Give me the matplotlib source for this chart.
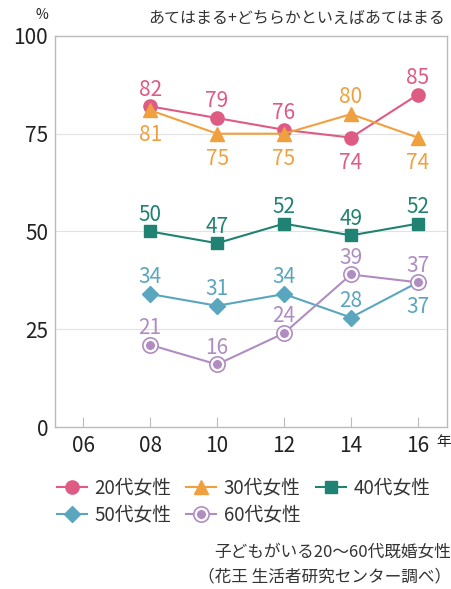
import matplotlib.pyplot as plt

plt.rcParams['font.family'] = ['Noto Sans CJK JP', 'DejaVu Sans']

years = [8, 10, 12, 14, 16]
xticks = [6, 8, 10, 12, 14, 16]
xticklabels = ['06', '08', '10', '12', '14', '16']
yticks = [0, 25, 50, 75, 100]

v20 = [82, 79, 76, 74, 85]
v30 = [81, 75, 75, 80, 74]
v40 = [50, 47, 52, 49, 52]
v50 = [34, 31, 34, 28, 37]
v60 = [21, 16, 24, 39, 37]

# label placement per point: 1 above, -1 below
pos20 = [1, 1, 1, -1, 1]
pos30 = [-1, -1, -1, 1, -1]
pos40 = [1, 1, 1, 1, 1]
pos50 = [1, 1, 1, 1, -1]
pos60 = [1, 1, 1, 1, 1]

c20 = '#de5b84'
c30 = '#f0a03e'
c40 = '#1f8272'
c50 = '#5ba6bf'
c60 = '#b08dc0'

fig = plt.figure(figsize=(4.52, 5.89), dpi=100)
ax = fig.add_axes([0.122, 0.275, 0.867, 0.664])

l20, = ax.plot(years, v20, color=c20, marker='o', ms=9.5, lw=1.5)
l30, = ax.plot(years, v30, color=c30, marker='^', ms=10, lw=1.5)
l40, = ax.plot(years, v40, color=c40, marker='s', ms=9, lw=1.5)
l50, = ax.plot(years, v50, color=c50, marker='D', ms=8, lw=1.5)
l60a, = ax.plot(years, v60, color=c60, marker='o', ms=11, mfc='white', mec=c60, mew=1.2, lw=1.5)
l60b, = ax.plot(years, v60, color=c60, marker='o', ms=7, lw=0, mec='white', mew=0.5)

for vals, pos, c in [(v20, pos20, c20), (v30, pos30, c30), (v40, pos40, c40),
                     (v50, pos50, c50), (v60, pos60, c60)]:
    for x, v, p in zip(years, vals, pos):
        off = 12 if p > 0 else -18
        ax.annotate(str(v), (x, v), xytext=(0, off), textcoords='offset points',
                    ha='center', va='center', color=c, fontsize=15)

ax.set_xlim(5.16, 16.87)
ax.set_ylim(0, 100)
ax.set_xticks(xticks)
ax.set_xticklabels(xticklabels, fontsize=15, color='#222222')
ax.set_yticks(yticks)
ax.set_yticklabels([str(t) for t in yticks], fontsize=15, color='#222222')
ax.tick_params(axis='x', direction='in', length=7, color='#bbbbbb', pad=6)
ax.tick_params(axis='y', length=0, pad=5)
for y in [25, 50, 75]:
    ax.axhline(y, color='#e2e2e2', lw=0.8, zorder=0)
for s in ax.spines.values():
    s.set_color('#bbbbbb')
    s.set_linewidth(1)

fig.text(0.093, 0.975, '%', fontsize=10, color='#222222', ha='center', va='center')
fig.text(0.985, 0.968, 'あてはまる+どちらかといえばあてはまる', fontsize=11.5,
         color='#333333', ha='right', va='center')
fig.text(0.997, 0.249, '年', fontsize=10.5, color='#222222', ha='right', va='center')

# matplotlib fills legend columns first, so order gives rows 20/30/40 and 50/60
leg = fig.legend([l20, l50, l30, (l60a, l60b), l40],
                 ['20代女性', '50代女性', '30代女性', '60代女性', '40代女性'],
                 loc='upper left', bbox_to_anchor=(0.105, 0.205), ncol=3, frameon=False,
                 fontsize=13.5, handlelength=1.6, columnspacing=0.8, handletextpad=0.4,
                 labelspacing=0.3, labelcolor='#333333', borderpad=0)

fig.text(0.997, 0.063, '子どもがいる20〜60代既婚女性', fontsize=12, color='#333333',
         ha='right', va='center')
fig.text(0.997, 0.02, '（花王 生活者研究センター調べ）', fontsize=12, color='#333333',
         ha='right', va='center')

fig.savefig('out.png', dpi=100)
